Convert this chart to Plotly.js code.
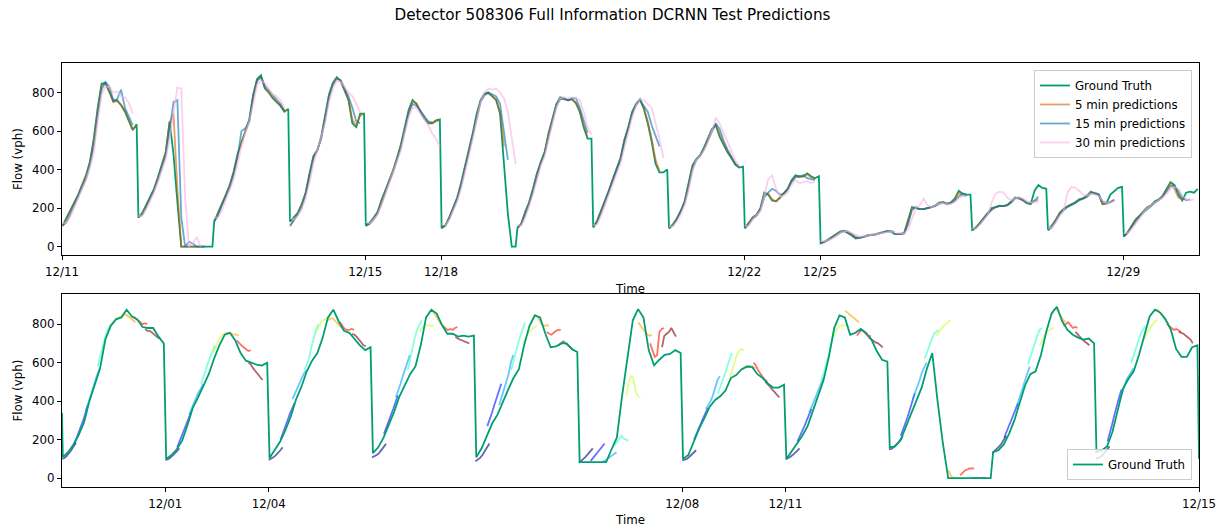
<!DOCTYPE html>
<html>
<head>
<meta charset="utf-8">
<script src="https://cdn.plot.ly/plotly-3.0.1.min.js"></script>
<style>html,body{margin:0;padding:0;background:#fff;}#chart{width:1225px;height:527px;}</style>
</head>
<body>
<div id="chart"></div>
<script>
// ---------- categories / tick labels ----------
const topDays = ['12/11','12/12','12/13','12/14','12/15','12/18','12/19','12/20','12/21','12/22','12/25','12/26','12/27','12/28','12/29'];
const topTickLabels = ['12/11','12/15','12/18','12/22','12/25','12/29'];
const botDays = ['11/30','12/01','12/04','12/05','12/06','12/07','12/08','12/11','12/12','12/13','12/14','12/15'];
const botTickLabels = ['12/01','12/04','12/08','12/11','12/15'];
const yTicks = [0, 200, 400, 600, 800];

// ---------- top panel: ground truth (vph), one row per day ----------
const gtTop = [
 [110,150,190,225,270,320,370,440,560,720,845,850,800,755,760,735,700,650,605,635],
 [150,175,215,255,300,360,420,490,650,480,230,0,0,0,0,0,0,0,0,0],
 [130,175,225,270,320,390,480,545,600,660,790,870,890,820,800,770,750,730,700,715],
 [130,150,175,220,280,380,470,500,570,680,790,850,880,860,810,760,640,620,690,690],
 [110,125,150,180,240,290,345,395,460,530,620,710,760,740,700,665,640,640,655,660],
 [95,110,155,210,255,330,415,510,590,690,760,795,800,780,760,690,430,170,0,0],
 [95,120,180,230,300,380,440,490,590,660,740,775,770,760,765,745,700,620,560,560],
 [100,135,185,240,290,350,410,460,555,620,700,740,765,715,640,545,430,385,385,400],
 [95,115,145,185,235,320,420,455,475,515,560,610,630,570,530,490,460,425,410,415],
 [95,120,150,165,200,280,270,240,235,255,280,300,345,370,365,365,380,365,355,365],
 [17,25,38,50,62,78,83,72,58,42,45,50,60,62,62,68,75,80,78,65],
 [65,65,70,140,205,200,195,195,200,205,215,230,230,220,230,250,290,275,270,270],
 [87,100,125,150,175,200,205,212,210,215,235,255,250,240,225,220,290,320,305,300],
 [87,110,140,175,195,210,220,230,245,250,265,285,275,270,220,225,270,290,305,310],
 [52,75,110,140,160,180,205,215,235,245,265,300,335,320,270,240,280,285,280,300]
];
const pred5Top = [
 [105,140,185,225,265,315,365,430,545,705,835,845,805,750,755,735,705,655,610,625],
 [155,170,210,250,295,355,415,485,640,690,300,0,0,0,0,0,0,0,null,null],
 [135,170,220,265,315,385,475,540,595,650,780,865,880,825,800,775,750,735,705,710],
 [105,140,170,215,275,370,465,500,565,670,780,845,875,860,815,765,660,625,680,690],
 [105,120,145,175,230,285,340,390,455,525,610,700,755,745,705,670,645,640,650,655],
 [100,110,150,205,250,325,410,505,585,680,755,790,795,780,765,700,520,null,null,null],
 [100,120,175,225,295,375,435,490,585,655,735,770,765,760,765,745,705,630,570,null],
 [100,130,180,235,285,345,405,455,550,615,695,735,760,720,650,560,450,395,null,null],
 [100,115,145,180,230,315,410,450,475,510,555,605,635,580,535,495,465,430,410,null],
 [100,120,150,165,195,270,275,245,235,250,275,300,340,365,360,365,375,360,350,null],
 [20,25,35,48,60,75,82,75,60,45,45,50,58,62,62,66,72,78,78,70],
 [65,65,70,130,200,200,195,195,200,205,212,225,230,222,228,245,280,265,265,null],
 [85,100,122,148,172,195,205,210,210,215,232,250,250,242,228,222,235,245,null,null],
 [85,108,138,172,193,208,218,228,243,250,262,282,275,268,222,222,232,240,null,null],
 [55,72,105,135,158,178,200,212,230,243,262,295,330,300,255,245,250,null,null,null]
];
const pred15Top = [
 [110,125,170,215,255,300,350,420,520,680,815,855,830,760,765,815,720,675,630,null],
 [155,165,205,245,290,345,405,470,600,750,760,150,0,25,15,0,0,0,null,null],
 [130,160,215,260,305,375,465,600,615,650,770,860,880,835,810,790,765,740,705,null],
 [110,140,165,205,270,360,455,500,560,660,770,840,870,865,825,780,720,650,640,null],
 [110,118,140,170,220,280,335,385,445,515,600,690,740,730,705,675,650,645,null,null],
 [105,110,145,195,245,315,400,495,575,670,750,785,800,790,780,740,600,450,null,null],
 [100,115,165,220,290,365,430,485,575,650,730,765,765,760,770,770,720,650,590,null],
 [100,125,175,230,280,340,400,450,540,610,690,735,760,730,700,630,570,520,null,null],
 [95,110,140,180,225,305,400,450,470,505,550,600,640,610,550,505,470,430,415,null],
 [95,115,145,160,190,255,280,300,290,270,275,295,335,360,365,370,355,350,345,null],
 [20,25,35,45,58,72,80,78,65,50,45,50,58,62,65,70,76,80,82,75],
 [65,65,68,115,190,205,195,195,200,205,210,222,230,225,225,238,260,275,265,null],
 [85,98,118,145,170,190,205,210,210,215,228,250,255,245,230,225,240,260,null,null],
 [85,100,130,165,188,205,215,225,240,248,258,275,280,272,235,225,230,245,null,null],
 [55,70,100,130,155,175,195,210,228,240,258,285,315,315,290,255,240,245,null,null]
];
const pred30Top = [
 [120,125,155,200,250,300,345,410,490,650,790,830,830,800,805,780,775,745,690,null],
 [160,160,195,235,280,335,395,455,560,700,825,820,250,0,20,50,0,null,null,null],
 [150,150,190,240,290,350,430,520,590,650,740,840,860,850,820,790,780,760,720,null],
 [150,140,160,195,250,330,430,500,560,640,750,820,860,855,830,800,780,740,700,null],
 [130,120,140,165,215,270,330,380,440,500,590,670,720,720,690,660,630,590,560,520],
 [120,110,140,185,235,300,380,470,560,660,750,800,820,815,820,800,770,700,560,430],
 [110,110,150,210,270,345,420,470,560,640,720,770,775,770,775,770,760,700,620,580],
 [110,115,160,215,265,320,380,430,510,590,670,730,765,760,740,720,640,560,460,null],
 [105,105,130,165,215,290,390,450,470,500,545,600,670,640,590,540,500,450,420,null],
 [105,110,140,160,185,260,350,370,300,260,265,280,320,345,330,335,340,330,335,null],
 [30,28,35,42,55,70,80,80,72,60,52,55,58,62,65,68,72,75,78,75],
 [70,68,68,90,150,200,215,250,215,205,215,225,225,220,222,230,250,265,260,null],
 [95,95,115,140,165,230,275,285,280,255,240,250,255,250,235,228,230,232,null,null],
 [95,100,125,160,185,280,310,305,290,270,265,275,270,262,240,225,228,235,null,null],
 [70,70,90,115,145,175,200,215,228,240,255,275,300,310,300,265,245,240,245,null]
];

// ---------- bottom panel: ground truth ----------
const gtBottomLead = 340;   // last reading before the first plotted day
const gtBottomTail = 100;   // first reading of 12/15
const gtBottom = [
 [110,135,175,225,290,400,490,570,720,790,825,835,875,840,825,785,780,780,735,700],
 [100,120,150,195,275,365,420,485,540,620,690,745,755,715,650,610,600,590,585,600],
 [105,145,190,250,320,410,475,555,610,650,730,835,875,815,765,755,720,690,665,680],
 [130,160,210,275,345,425,485,540,580,690,835,875,855,795,750,750,735,740,735,740],
 [108,155,220,285,330,400,460,520,565,690,790,845,835,750,680,685,700,700,670,655],
 [83,83,83,83,83,83,150,210,430,630,820,878,835,665,586,615,640,645,665,650],
 [100,120,185,255,310,370,405,425,455,520,535,565,580,578,540,520,490,470,470,485],
 [100,140,175,220,270,350,430,510,630,780,845,835,745,755,775,755,720,660,615,605],
 [160,165,195,265,330,400,470,570,650,400,180,0,0,0,0,0,0,0,0,0],
 [135,145,175,230,300,390,480,540,555,640,760,855,890,815,770,745,730,720,725,700],
 [135,145,165,240,350,465,515,555,640,745,840,875,860,825,770,670,630,630,680,690]
];
// ---------- bottom panel: multi-step prediction runs, 8 per day (issued through the day) ----------
const segBottom = [
 [[100,105,115,128,145,165,185],[170,200,230,265,300,340,380],[350,390,430,470,510,540,570],[580,630,680,720,760,785,800],
  [790,805,820,830,835,840,845],[835,850,850,840,830,820,810],[840,830,820,810,800,805,800],[775,765,765,755,745,735,725]],
 [[95,98,105,115,125,140,155],[160,190,220,255,285,315,345],[330,360,395,420,445,465,490],[490,520,560,600,630,660,690],
  [650,680,710,730,745,750,755],[750,755,755,750,745,745,740],[715,700,690,680,670,660,665],[600,590,570,555,540,525,510]],
 [[95,100,108,118,130,145,160],[200,230,265,300,335,365,390],[410,440,470,500,520,545,560],[560,590,620,680,730,770,800],
  [760,790,810,820,830,835,840],[820,830,830,815,800,790,780],[810,790,775,770,770,775,770],[750,745,735,720,700,690,685]],
 [[108,112,120,130,145,160,178],[230,260,290,325,360,395,430],[420,450,490,530,570,610,640],[560,620,680,730,770,800,820],
  [760,780,790,795,795,790,790],[870,860,840,820,800,790,785],[785,775,770,775,770,780,785],[735,725,720,715,710,705,700]],
 [[88,95,105,120,140,160,180],[270,300,340,380,420,455,490],[380,420,460,500,540,600,640],[560,610,660,700,740,780,810],
  [700,730,750,765,775,785,790],[850,840,820,800,790,795,790],[760,750,745,755,765,770,770],[690,700,710,700,690,680,670]],
 [[80,88,100,112,125,140,155],[90,105,120,135,150,165,180],[85,90,100,110,120,130,135],[170,185,200,220,205,200,195],
  [430,500,530,520,450,425,420],[810,790,775,760,745,740,745],[700,660,630,640,760,775,780],[680,740,750,760,780,760,735]],
 [[92,95,100,110,120,132,145],[200,230,260,290,315,340,365],[360,380,400,430,470,510,530],[440,470,500,540,580,620,650],
  [520,560,600,640,660,670,665],[565,570,575,580,580,575,570],[600,585,560,540,525,510,500],[500,490,475,460,445,430,420]],
 [[98,102,110,120,130,142,155],[190,215,240,270,300,330,360],[340,370,400,430,460,490,520],[500,540,590,630,680,730,790],
  [730,760,780,790,795,795,790],[870,860,850,835,825,815,810],[740,755,770,760,750,735,740],[730,720,715,705,700,690,680]],
 [[150,152,160,170,185,200,220],[220,250,280,320,360,400,440],[410,440,470,510,550,580,600],[620,650,690,720,750,760,770],
  [740,760,775,790,800,810,820],[40,15,0,0,0,0,0],[15,30,40,45,50,50,52],[0,0,0,0,0,0,0]],
 [[130,140,150,165,180,200,220],[210,240,270,300,330,360,390],[360,400,440,480,520,550,580],[590,630,670,710,740,770,780],
  [690,720,740,760,770,775,780],[850,875,880,860,840,820,810],[790,800,810,795,780,785,780],[760,745,735,720,710,700,690]],
 [[100,105,110,120,135,150,165],[190,230,280,330,380,420,460],[400,440,480,510,530,550,570],[600,640,680,720,750,770,790],
  [715,740,760,780,800,815,820],[870,875,860,850,830,810,800],[800,790,780,770,775,765,760],[760,755,750,740,730,720,700]]
];

// ---------- styling constants ----------
const DAY_START = 0.008, DAY_SPAN = 0.977;      // sample placement inside a day slot
const SEG_STEP = 0.115, SEG_DX = 0.0225;        // prediction-run spacing inside a day
const FONT = 'DejaVu Sans, Verdana, sans-serif';
const GREEN = '#029e73';

function dayX(d, n) { return Array.from({length: n}, (_, i) => d + DAY_START + i * DAY_SPAN / (n - 1)); }
function joinDays(rows, gap) {
  const xs = [], ys = [];
  rows.forEach((vals, d) => {
    if (gap && d > 0) { xs.push(null); ys.push(null); }
    xs.push(...dayX(d, vals.length)); ys.push(...vals);
  });
  return {xs, ys};
}
function jet(t) {
  const c = v => Math.round(255 * Math.max(0, Math.min(1, v)));
  const r = c(Math.min(4 * t - 1.5, -4 * t + 4.5));
  const g = c(Math.min(4 * t - 0.5, -4 * t + 3.5));
  const b = c(Math.min(4 * t + 0.5, -4 * t + 2.5));
  return [r, g, b];
}

const traces = [];
const gt1 = joinDays(gtTop, false);
traces.push({x: gt1.xs, y: gt1.ys, type: 'scatter', mode: 'lines', name: 'Ground Truth',
  line: {color: GREEN, width: 1.8}, xaxis: 'x', yaxis: 'y', legend: 'legend'});
[[pred5Top, '5 min predictions', 'rgba(213,94,0,0.6)'],
 [pred15Top, '15 min predictions', 'rgba(1,115,178,0.6)'],
 [pred30Top, '30 min predictions', 'rgba(251,175,228,0.6)']].forEach(([rows, name, col]) => {
  const p = joinDays(rows, true);
  traces.push({x: p.xs, y: p.ys, type: 'scatter', mode: 'lines', name: name, connectgaps: false,
    line: {color: col, width: 1.8}, xaxis: 'x', yaxis: 'y', legend: 'legend'});
});

// bottom prediction runs, coloured by issue time within the day
const nSeg = segBottom[0].length;
for (let k = 0; k < nSeg; k++) {
  const xs = [], ys = [];
  segBottom.forEach((day, d) => {
    day[k].forEach((v, j) => { xs.push(d + k * SEG_STEP + j * SEG_DX); ys.push(v); });
    xs.push(null); ys.push(null);
  });
  const [r, g, b] = jet(k / (nSeg - 1));
  traces.push({x: xs, y: ys, type: 'scatter', mode: 'lines', showlegend: false, connectgaps: false,
    line: {color: `rgba(${r},${g},${b},0.6)`, width: 1.8}, xaxis: 'x2', yaxis: 'y2', hoverinfo: 'skip'});
}
// bottom ground truth, drawn over the runs
const gb = joinDays(gtBottom, false);
traces.push({x: [0, ...gb.xs, botDays.length - 1], y: [gtBottomLead, ...gb.ys, gtBottomTail],
  type: 'scatter', mode: 'lines', name: 'Ground Truth',
  line: {color: GREEN, width: 1.8}, xaxis: 'x2', yaxis: 'y2', legend: 'legend2'});

const axisCommon = {
  showgrid: false, zeroline: false, showline: true, mirror: true, linecolor: '#000', linewidth: 1,
  ticks: 'outside', ticklen: 4, tickwidth: 1, tickcolor: '#000',
  tickfont: {family: FONT, size: 11.8, color: '#000'}
};
const xAxisExtra = {ticklabelstandoff: 2};
const topTickVals = topTickLabels.map(l => topDays.indexOf(l));
const botTickVals = botTickLabels.map(l => botDays.indexOf(l));

const layout = {
  width: 1225, height: 527,
  margin: {l: 62, r: 26, t: 63, b: 40, pad: 0},
  paper_bgcolor: '#fff', plot_bgcolor: '#fff',
  font: {family: FONT, size: 11.8, color: '#000'},
  title: {text: 'Detector 508306 Full Information DCRNN Test Predictions',
    font: {family: FONT, size: 15.2, color: '#000'}, x: 0.5, xref: 'container', y: 1 - 15 / 527, yref: 'container', yanchor: 'middle'},
  xaxis: Object.assign({}, axisCommon, xAxisExtra, {domain: [0, 1], anchor: 'y', range: [0, topDays.length],
    tickvals: topTickVals, ticktext: topTickLabels,
    title: {text: 'Time', font: {family: FONT, size: 11.8}, standoff: 6}}),
  yaxis: Object.assign({}, axisCommon, {domain: [0.5465, 1], anchor: 'x', range: [-45, 953],
    tickvals: yTicks, title: {text: 'Flow (vph)', font: {family: FONT, size: 11.8}, standoff: 6}}),
  xaxis2: Object.assign({}, axisCommon, xAxisExtra, {domain: [0, 1], anchor: 'y2', range: [0, botDays.length - 1],
    tickvals: botTickVals, ticktext: botTickLabels,
    title: {text: 'Time', font: {family: FONT, size: 11.8}, standoff: 5}}),
  yaxis2: Object.assign({}, axisCommon, {domain: [0, 0.4545], anchor: 'x2', range: [-46, 955],
    tickvals: yTicks, title: {text: 'Flow (vph)', font: {family: FONT, size: 11.8}, standoff: 6}}),
  legend: {x: 0.9938, xanchor: 'right', y: 0.9835, yanchor: 'top', bgcolor: 'rgba(255,255,255,0.8)',
    bordercolor: '#cccccc', borderwidth: 1, font: {family: FONT, size: 11.8, color: '#000'}, tracegroupgap: 0},
  legend2: {x: 0.9938, xanchor: 'right', y: 0.0165, yanchor: 'bottom', bgcolor: 'rgba(255,255,255,0.8)',
    bordercolor: '#cccccc', borderwidth: 1, font: {family: FONT, size: 11.8, color: '#000'}},
  showlegend: true
};

Plotly.newPlot('chart', traces, layout, {staticPlot: true, displayModeBar: false});
</script>
</body>
</html>
